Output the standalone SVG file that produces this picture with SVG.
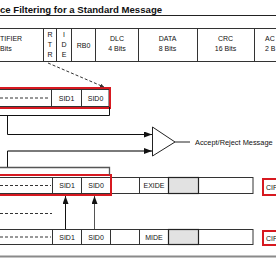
<svg xmlns="http://www.w3.org/2000/svg" width="276" height="260" viewBox="0 0 276 260">
<defs>
<style>
text{font-family:"Liberation Sans",Arial,sans-serif;font-size:7px;fill:#111}
.t{font-size:9.6px;font-weight:bold}
.m{text-anchor:middle}
.cell{fill:#fff;stroke:#333;stroke-width:1}
.ln{stroke:#333;stroke-width:1;fill:none}
.dash{stroke:#333;stroke-width:1;stroke-dasharray:3,2;fill:none}
.red{fill:none;stroke:#d71920;stroke-width:2}
.gray{fill:#e2e2e2;stroke:#222;stroke-width:1.2}
.conn{stroke:#111;stroke-width:1;fill:none}
.gconn{stroke:#7a7a7a;stroke-width:2;fill:none}
</style>
<marker id="ah" viewBox="0 0 8 6" refX="8" refY="3" markerWidth="8" markerHeight="6" markerUnits="userSpaceOnUse" orient="auto"><path d="M0,0L8,3L0,6z" fill="#111"/></marker>
<marker id="ahs" viewBox="0 0 6 6" refX="6" refY="3" markerWidth="4" markerHeight="4" markerUnits="userSpaceOnUse" orient="auto"><path d="M0,0L6,3L0,6z" fill="#333"/></marker>
</defs>

<g id="title">
<text class="t" x="0" y="12.5">ce Filtering for a Standard Message</text>
<line x1="0" y1="15.5" x2="276" y2="15.5" stroke="#222" stroke-width="1"/>
</g>

<g id="header">
<rect class="cell" x="-2" y="28.5" width="290" height="33"/>
<path class="ln" d="M43.5,28.5V61.5M56.5,28.5V61.5M71.5,28.5V61.5M95.5,28.5V61.5M138.5,28.5V61.5M197.5,28.5V61.5M254.5,28.5V61.5"/>
<text x="0" y="40.5">TIFIER</text>
<text x="0" y="50.5">Bits</text>
<text class="m" x="50" y="36.5">R</text>
<text class="m" x="50" y="46.5">T</text>
<text class="m" x="50" y="56.5">R</text>
<text class="m" x="64" y="36.5">I</text>
<text class="m" x="64" y="46.5">D</text>
<text class="m" x="64" y="56.5">E</text>
<text class="m" x="83.5" y="47.5">RB0</text>
<text class="m" x="117" y="40.5">DLC</text>
<text class="m" x="117" y="50.5">4 Bits</text>
<text class="m" x="167.5" y="40.5">DATA</text>
<text class="m" x="167.5" y="50.5">8 Bits</text>
<text class="m" x="225.5" y="40.5">CRC</text>
<text class="m" x="225.5" y="50.5">16 Bits</text>
<text x="265" y="40.5">AC</text>
<text x="265" y="50.5">2 B</text>
</g>

<g id="mask">
<rect class="cell" x="-2" y="89.5" width="111" height="17"/>
<path class="dash" d="M0,98H50"/>
<path class="ln" d="M51.5,89.5V106.5M81.5,89.5V106.5"/>
<text class="m" x="66.5" y="100.5">SID1</text>
<text class="m" x="95.5" y="100.5">SID0</text>
<rect class="red" x="-3" y="88" width="113" height="20"/>
</g>

<g id="filter">
<rect class="cell" x="-2" y="177.5" width="255" height="16"/>
<path class="dash" d="M0,185.5H51"/>
<path class="ln" d="M52.5,177.5V193.5M81.5,177.5V193.5M110.5,177.5V193.5M139.5,177.5V193.5M198.5,177.5V193.5"/>
<rect class="gray" x="168.5" y="177.5" width="30" height="16"/>
<text class="m" x="67" y="188">SID1</text>
<text class="m" x="96" y="188">SID0</text>
<text class="m" x="154" y="188">EXIDE</text>
<rect class="red" x="-3" y="175" width="114" height="20"/>
<rect class="red" x="263" y="179" width="20" height="16"/>
<text x="266" y="190">CIF</text>
</g>

<g id="dashline">
<path class="dash" d="M0,213.5H52"/>
</g>

<g id="message">
<rect class="cell" x="-2" y="229.5" width="255" height="15"/>
<path class="dash" d="M0,237H51"/>
<path class="ln" d="M52.5,229.5V244.5M81.5,229.5V244.5M110.5,229.5V244.5M139.5,229.5V244.5M198.5,229.5V244.5"/>
<rect class="gray" x="168.5" y="229.5" width="30" height="15"/>
<text class="m" x="67" y="239.5">SID1</text>
<text class="m" x="96" y="239.5">SID0</text>
<text class="m" x="154" y="239.5">MIDE</text>
<rect class="red" x="263" y="231" width="20" height="14"/>
<text x="266" y="241">CIF</text>
</g>

<g id="comparator">
<path d="M152.5,127V156L175,142Z" fill="#fff" stroke="#222" stroke-width="1"/>
<line x1="175" y1="142" x2="190" y2="142" stroke="#222" stroke-width="1"/>
<text x="195" y="144.5" style="font-size:7.4px">Accept/Reject Message</text>
</g>

<g id="connectors">
<path class="dash" d="M48,63L104,87" marker-end="url(#ahs)"/>
<path class="conn" d="M109.5,107V115.5H0"/>
<path class="conn" d="M7.5,115.5V134.5H152" marker-end="url(#ah)"/>
<path class="gconn" d="M7.5,151H152" marker-end="url(#ah)"/>
<path class="conn" d="M7.5,151V167.5"/>
<path d="M0,167.5H109.5V175" fill="none" stroke="#555" stroke-width="1.3"/>
<path class="conn" d="M65.5,229V196" marker-end="url(#ah)"/>
<path d="M94.5,229V196" fill="none" stroke="#555" stroke-width="1" marker-end="url(#ah)"/>
<line x1="0" y1="256.5" x2="276" y2="256.5" stroke="#8a8a8a" stroke-width="2"/>
</g>
</svg>
